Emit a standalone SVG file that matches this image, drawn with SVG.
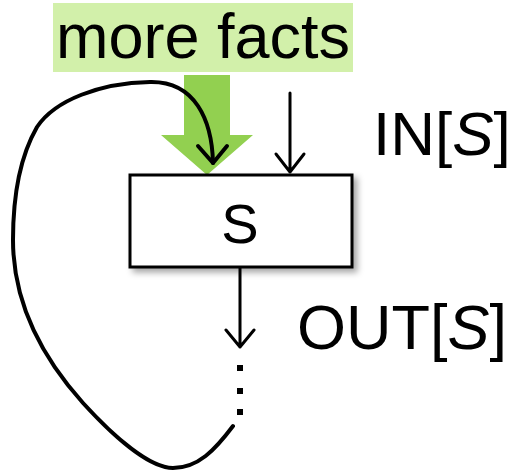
<svg xmlns="http://www.w3.org/2000/svg" width="515" height="472" viewBox="0 0 515 472">
<style>
text{font-family:"Liberation Sans",Arial,sans-serif;fill:#000}
.ln{fill:none;stroke:#000;stroke-width:3;stroke-linecap:round;stroke-linejoin:round}
.thick{stroke-width:4}
</style>
<defs>
<filter id="sh" x="-10%" y="-10%" width="130%" height="140%">
<feDropShadow dx="4" dy="4" stdDeviation="3" flood-color="#000" flood-opacity="0.35"/>
</filter>
</defs>
<g id="label-more-facts">
<rect x="53" y="3" width="300" height="69" fill="#d2f0aa"/>
<text x="56" y="58" font-size="63">more facts</text>
</g>
<g id="green-arrow">
<polygon points="184,75 230,75 230,135 253,135 207,175 161,135 184,135" fill="#92d050"/>
</g>
<g id="node-S">
<rect x="130" y="175" width="222" height="92" fill="#fff" stroke="#000" stroke-width="3" filter="url(#sh)"/>
<text x="240" y="243" font-size="56" text-anchor="middle">S</text>
</g>
<g id="label-in">
<text x="373" y="155" font-size="62">IN[<tspan font-style="italic">S</tspan>]</text>
</g>
<g id="label-out">
<text x="297" y="349" font-size="63">OUT[<tspan font-style="italic">S</tspan>]</text>
</g>
<g id="connectors">
<path class="ln thick" d="M 233 426 C 215 450 198 468 173 468 C 150 468 115 438 83 403 C 40 355 13 300 13 240 C 13 200 18 160 37 127 C 55 100 100 83 150 82 C 195 81 212 120 213 163"/>
<path class="ln thick" d="M 198 146 L 213 163 L 227 146"/>
<path class="ln" d="M 290 93 L 290 172 M 276 154 L 290 172 L 304 154"/>
<path class="ln" d="M 240 268 L 240 347 M 226 330 L 240 347 L 254 330"/>
<rect x="237" y="365" width="6" height="6"/>
<rect x="237" y="388" width="6" height="6"/>
<rect x="237" y="409" width="6" height="6"/>
</g>
</svg>
